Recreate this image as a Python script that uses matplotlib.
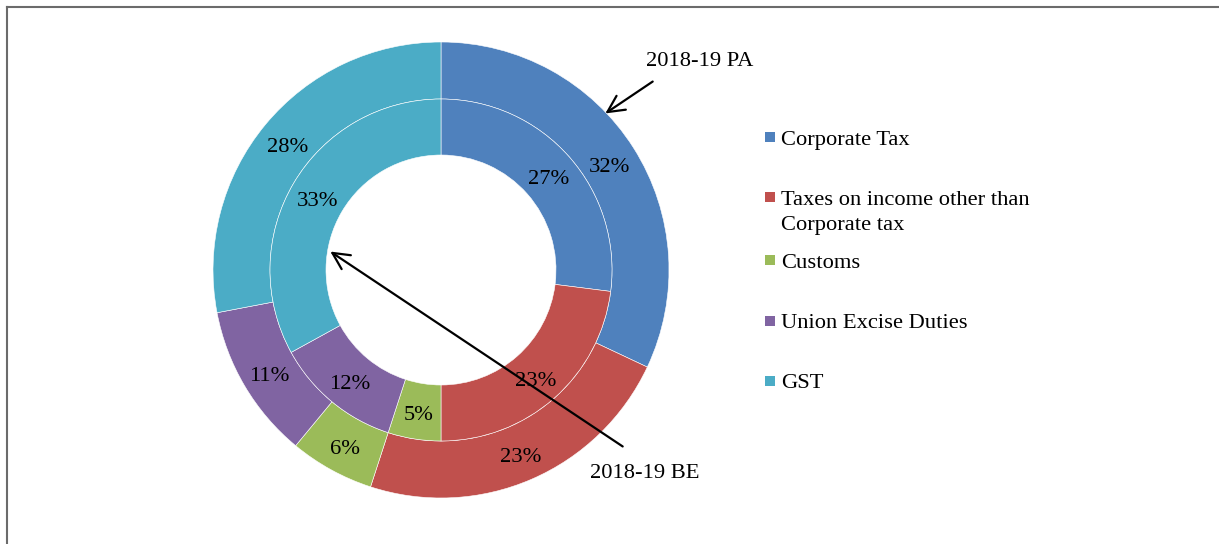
import matplotlib
matplotlib.use("Agg")
import matplotlib.pyplot as plt
from matplotlib.patches import Rectangle
from matplotlib.lines import Line2D

categories = ["Corporate Tax", "Taxes on income other than\nCorporate tax", "Customs",
              "Union Excise Duties", "GST"]
pa_2018 = [32, 23, 6, 11, 28]   # outer ring, 2018-19 PA
be_2018 = [27, 23, 5, 12, 33]   # inner ring, 2018-19 BE
colors = ["#4F81BD", "#C0504D", "#9BBB59", "#8064A2", "#4BACC6"]

plt.rcParams['font.family'] = ['Liberation Serif', 'DejaVu Serif']
fs = 16.2

fig = plt.figure(figsize=(12.19, 5.44), dpi=100)
# axes in pixel units, origin at the pie centre
ax = fig.add_axes([0, 0, 1, 1])
cx, cy = 441, 270
ax.axis('off')

edge = dict(edgecolor='white', linewidth=0.4)
_, _, outer_txt = ax.pie(pa_2018, radius=228, colors=colors, startangle=90, counterclock=False,
                         wedgeprops=dict(width=57, **edge), autopct=lambda p: f"{p:.0f}%",
                         pctdistance=0.875, textprops=dict(fontsize=fs, color='black'))
_, _, inner_txt = ax.pie(be_2018, radius=171, colors=colors, startangle=90, counterclock=False,
                         wedgeprops=dict(width=56, **edge), autopct=lambda p: f"{p:.0f}%",
                         pctdistance=0.836, textprops=dict(fontsize=fs, color='black'))
for t in outer_txt + inner_txt:
    t.set_va('center_baseline')
    x, y = t.get_position()
    t.set_position((x, y - 2))
ax.set_xlim(-cx, 1219 - cx)
ax.set_ylim(cy - 544, cy)
ax.set_aspect('equal')

# ring callouts
arrow = dict(arrowstyle='->', lw=1.6, color='black', mutation_scale=30)
ax.text(205, 211, "2018-19 PA", fontsize=fs, va='center_baseline', ha='left')
ax.annotate('', xy=(162, 155), xytext=(214, 190), arrowprops=arrow)
ax.text(149, -201, "2018-19 BE", fontsize=fs, va='center_baseline', ha='left')
ax.annotate('', xy=(-113, 20), xytext=(184, -178), arrowprops=arrow)

# legend
box_y = [133, 73, 10, -51, -111]
text_y = [133, 60, 10, -51, -111]
for lab, col, by, ty in zip(categories, colors, box_y, text_y):
    ax.add_patch(Rectangle((324, by - 5), 10, 10, facecolor=col, edgecolor='none'))
    ax.text(340, ty - 3, lab, fontsize=fs, va='center', ha='left', linespacing=1.42)

# chart frame (top and left edges visible)
fig.add_artist(Line2D([6.5 / 1219, 1], [1 - 7 / 544, 1 - 7 / 544], color='#6b6b6b', lw=1.5))
fig.add_artist(Line2D([6.5 / 1219, 6.5 / 1219], [0, 1 - 7 / 544], color='#6b6b6b', lw=1.5))

fig.savefig("out.png", dpi=100)
